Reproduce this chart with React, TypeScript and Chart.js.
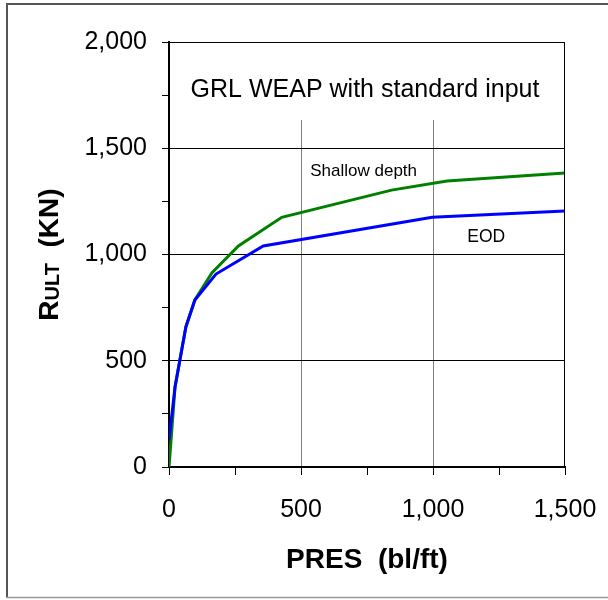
import React, { useEffect, useRef } from "react";
import { Chart, registerables } from "chart.js";

Chart.register(...registerables);

// Pile resistance vs. penetration resistance (GRL WEAP, standard input)
const presEOD = [0, 23, 64, 98, 178, 357, 997, 1500];
const rultEOD = [127, 378, 660, 786, 908, 1040, 1175, 1205];

const presShallow = [0, 23, 64, 98, 163, 263, 427, 843, 1053, 1500];
const rultShallow = [0, 378, 660, 786, 914, 1040, 1175, 1303, 1346, 1383];

const xTickValues = [0, 500, 1000, 1500];
const yTickValues = [0, 500, 1000, 1500, 2000];

const chartTitle = "GRL WEAP with standard input";
const xTitle = "PRES  (bl/ft)";
const yTitleMain = "R";
const yTitleSub = "ULT";
const yTitleUnit = "  (KN)";
const labelShallow = "Shallow depth";
const labelEOD = "EOD";

const FONT = "'Liberation Sans', Arial, sans-serif";

const fmt = (v: number) => v.toLocaleString("en-US");

const decorPlugin = {
  id: "decor",
  beforeDraw(chart: any) {
    const { ctx, width, height } = chart;
    ctx.save();
    ctx.fillStyle = "#ffffff";
    ctx.fillRect(0, 0, width, height);
    // outer frame
    ctx.lineWidth = 2;
    ctx.strokeStyle = "#555555";
    ctx.beginPath();
    ctx.moveTo(7, 598);
    ctx.lineTo(7, 4);
    ctx.lineTo(width, 4);
    ctx.stroke();
    ctx.lineWidth = 1.5;
    ctx.strokeStyle = "#999999";
    ctx.beginPath();
    ctx.moveTo(6, 597.5);
    ctx.lineTo(width, 597.5);
    ctx.stroke();
    ctx.restore();
  },
  beforeDatasetsDraw(chart: any) {
    const { ctx, chartArea } = chart;
    const x = chart.scales.x;
    const y = chart.scales.y;
    ctx.save();
    // title panel over the grid
    ctx.fillStyle = "#ffffff";
    ctx.fillRect(chartArea.left + 1, chartArea.top + 1, chartArea.right - chartArea.left - 2, 77);
    ctx.fillStyle = "#000000";
    ctx.font = `25px ${FONT}`;
    ctx.textAlign = "center";
    ctx.textBaseline = "alphabetic";
    ctx.fillText(chartTitle, (chartArea.left + chartArea.right) / 2 - 2, chartArea.top + 55);
    // curve labels
    ctx.textAlign = "left";
    ctx.font = `17px ${FONT}`;
    ctx.fillText(labelShallow, x.getPixelForValue(535), y.getPixelForValue(1370));
    ctx.font = `17.5px ${FONT}`;
    ctx.fillText(labelEOD, x.getPixelForValue(1130), y.getPixelForValue(1060));
    ctx.restore();
  },
  afterDraw(chart: any) {
    const { ctx, chartArea } = chart;
    ctx.save();
    // top and right frame of the plot area
    ctx.strokeStyle = "#000000";
    ctx.lineWidth = 1;
    ctx.beginPath();
    ctx.moveTo(chartArea.left, chartArea.top + 0.5);
    ctx.lineTo(chartArea.right - 0.5, chartArea.top + 0.5);
    ctx.lineTo(chartArea.right - 0.5, chartArea.bottom);
    ctx.stroke();

    // x axis title
    ctx.fillStyle = "#000000";
    ctx.font = `bold 28px ${FONT}`;
    ctx.textAlign = "center";
    ctx.textBaseline = "alphabetic";
    ctx.fillText(xTitle, (chartArea.left + chartArea.right) / 2, 568);

    // y axis title with subscript
    const mainFont = `bold 28px ${FONT}`;
    const subFont = `bold 20px ${FONT}`;
    ctx.font = mainFont;
    const wR = ctx.measureText(yTitleMain).width;
    const wU = ctx.measureText(yTitleUnit).width;
    ctx.font = subFont;
    const wS = ctx.measureText(yTitleSub).width;
    const total = wR + wS + wU;
    const cy = (chartArea.top + chartArea.bottom) / 2;
    ctx.translate(58, cy + total / 2);
    ctx.rotate(-Math.PI / 2);
    ctx.textAlign = "left";
    ctx.font = mainFont;
    ctx.fillText(yTitleMain, 0, 0);
    ctx.font = subFont;
    ctx.fillText(yTitleSub, wR, 1);
    ctx.font = mainFont;
    ctx.fillText(yTitleUnit, wR + wS, 0);
    ctx.restore();
  },
};

export default function App() {
  const ref = useRef<HTMLCanvasElement | null>(null);

  useEffect(() => {
    document.body.style.margin = "0";
    const canvas = ref.current;
    if (!canvas) return;
    const chart = new Chart(canvas, {
      type: "line",
      data: {
        datasets: [
          {
            label: labelEOD,
            data: presEOD.map((p, i) => ({ x: p, y: rultEOD[i] })),
            borderColor: "#0000ff",
            borderWidth: 3,
            pointRadius: 0,
            tension: 0,
            fill: false,
          },
          {
            label: labelShallow,
            data: presShallow.map((p, i) => ({ x: p, y: rultShallow[i] })),
            borderColor: "#008000",
            borderWidth: 3,
            pointRadius: 0,
            tension: 0,
            fill: false,
          },
        ],
      },
      options: {
        responsive: false,
        animation: false,
        layout: { padding: { top: 42, right: 43, left: 0, bottom: 0 } },
        plugins: {
          legend: { display: false },
          tooltip: { enabled: false },
          title: { display: false },
        },
        scales: {
          x: {
            type: "linear",
            min: 0,
            max: 1500,
            afterFit(scale: any) {
              scale.height = 133;
              scale.paddingLeft = 0;
              scale.paddingRight = 0;
            },
            afterBuildTicks(scale: any) {
              scale.ticks = [0, 250, 500, 750, 1000, 1250, 1500].map((v) => ({ value: v }));
            },
            ticks: {
              autoSkip: false,
              maxRotation: 0,
              padding: 20,
              color: "#000000",
              font: { family: FONT, size: 25 },
              callback: (v: any) => (xTickValues.includes(Number(v)) ? fmt(Number(v)) : ""),
            },
            grid: {
              color: (c: any) => {
                const v = c.tick ? c.tick.value : -1;
                return v > 0 && v < 1500 && v % 500 === 0 ? "#808080" : "rgba(0,0,0,0)";
              },
              tickColor: "#000000",
              tickLength: 8,
              lineWidth: 1,
            },
            border: { color: "#000000", width: 2 },
          },
          y: {
            type: "linear",
            min: 0,
            max: 2000,
            afterFit(scale: any) {
              scale.width = 169;
              scale.paddingTop = 0;
              scale.paddingBottom = 0;
            },
            afterBuildTicks(scale: any) {
              const t: any[] = [];
              for (let v = 0; v <= 2000; v += 250) t.push({ value: v });
              scale.ticks = t;
            },
            ticks: {
              autoSkip: false,
              padding: 15,
              color: "#000000",
              font: { family: FONT, size: 25 },
              callback: (v: any) => (yTickValues.includes(Number(v)) ? fmt(Number(v)) : ""),
            },
            grid: {
              color: (c: any) => {
                const v = c.tick ? c.tick.value : -1;
                return v > 0 && v % 500 === 0 ? "#000000" : "rgba(0,0,0,0)";
              },
              tickColor: "#000000",
              tickLength: 7,
              lineWidth: 1,
            },
            border: { color: "#000000", width: 2 },
          },
        },
      },
      plugins: [decorPlugin],
    });
    return () => chart.destroy();
  }, []);

  return (
    <div style={{ position: "absolute", left: 0, top: 0, width: 608, height: 600 }}>
      <canvas ref={ref} width={608} height={600} style={{ display: "block" }} />
    </div>
  );
}
